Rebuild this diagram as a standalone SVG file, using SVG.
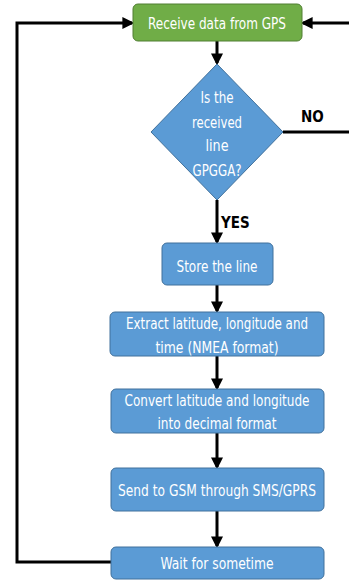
<svg xmlns="http://www.w3.org/2000/svg" width="349" height="580" viewBox="0 0 349 580">
  <style>
    .box { fill: #5B9BD5; stroke: #41719C; stroke-width: 1; }
    .start { fill: #70AD47; stroke: #507E32; stroke-width: 1; }
    .t { font-family: "Liberation Sans Narrow", "DejaVu Sans Condensed", "Liberation Sans", sans-serif; font-size: 16px; fill: #FFFFFF; text-anchor: middle; }
    .long { font-size: 15px; }
    .lbl { font-family: "Liberation Sans Narrow", "DejaVu Sans Condensed", "Liberation Sans", sans-serif; font-size: 15px; font-weight: bold; fill: #000000; }
    .wire { fill: none; stroke: #000000; stroke-width: 3; }
  </style>
  <defs>
    <marker id="arrow" markerWidth="4" markerHeight="4" refX="3.2" refY="2" orient="auto" markerUnits="strokeWidth">
      <path d="M0,0 L4,2 L0,4 Z" fill="#000000"/>
    </marker>
  </defs>
  <rect width="349" height="580" fill="#FFFFFF"/>

  <g id="connectors">
    <!-- main downward flow -->
    <line class="wire" x1="217" y1="41" x2="217" y2="63" marker-end="url(#arrow)"/>
    <line class="wire" x1="217" y1="200" x2="217" y2="242" marker-end="url(#arrow)"/>
    <line class="wire" x1="217" y1="285" x2="217" y2="311" marker-end="url(#arrow)"/>
    <line class="wire" x1="217" y1="356" x2="217" y2="388" marker-end="url(#arrow)"/>
    <line class="wire" x1="217" y1="433" x2="217" y2="467" marker-end="url(#arrow)"/>
    <line class="wire" x1="217" y1="511" x2="217" y2="546" marker-end="url(#arrow)"/>
    <!-- NO branch back to the top, routed along the right edge -->
    <polyline class="wire" points="283,132 354,132 354,23 303,23" marker-end="url(#arrow)"/>
    <!-- loop from the wait step back to the top -->
    <polyline class="wire" points="111,562 17,562 17,23 132,23" marker-end="url(#arrow)"/>
    <text class="lbl" x="301" y="122">NO</text>
    <text class="lbl" x="221" y="228">YES</text>
  </g>

  <g id="receive">
    <rect class="start" x="133" y="4" width="169" height="37" rx="5"/>
    <text class="t" x="217" y="28.5" textLength="138" lengthAdjust="spacingAndGlyphs">Receive data from GPS</text>
  </g>

  <g id="check">
    <polygon class="box" points="217,64 283,132 217,200 151,132"/>
    <text class="t" x="217" y="102.5" textLength="33" lengthAdjust="spacingAndGlyphs">Is the</text>
    <text class="t" x="217" y="127.5" textLength="50" lengthAdjust="spacingAndGlyphs">received</text>
    <text class="t" x="217" y="150.5" textLength="23" lengthAdjust="spacingAndGlyphs">line</text>
    <text class="t" x="217" y="175.5" textLength="49" lengthAdjust="spacingAndGlyphs">GPGGA?</text>
  </g>

  <g id="store">
    <rect class="box" x="162" y="243" width="111" height="42" rx="5"/>
    <text class="t" x="217" y="271.5" textLength="81" lengthAdjust="spacingAndGlyphs">Store the line</text>
  </g>

  <g id="extract">
    <rect class="box" x="110" y="312" width="214" height="44" rx="5"/>
    <text class="t long" x="217" y="328.5" textLength="182" lengthAdjust="spacingAndGlyphs">Extract latitude, longitude and</text>
    <text class="t" x="217" y="352.5" textLength="123" lengthAdjust="spacingAndGlyphs">time (NMEA format)</text>
  </g>

  <g id="convert">
    <rect class="box" x="111" y="389" width="213" height="44" rx="5"/>
    <text class="t long" x="217" y="405.5" textLength="185" lengthAdjust="spacingAndGlyphs">Convert latitude and longitude</text>
    <text class="t" x="217" y="428.5" textLength="119" lengthAdjust="spacingAndGlyphs">into decimal format</text>
  </g>

  <g id="send">
    <rect class="box" x="111" y="468" width="213" height="43" rx="5"/>
    <text class="t long" x="217" y="495.5" textLength="198" lengthAdjust="spacingAndGlyphs">Send to GSM through SMS/GPRS</text>
  </g>

  <g id="wait">
    <rect class="box" x="111" y="547" width="213" height="32" rx="5"/>
    <text class="t" x="217" y="568.5" textLength="113" lengthAdjust="spacingAndGlyphs">Wait for sometime</text>
  </g>
</svg>
